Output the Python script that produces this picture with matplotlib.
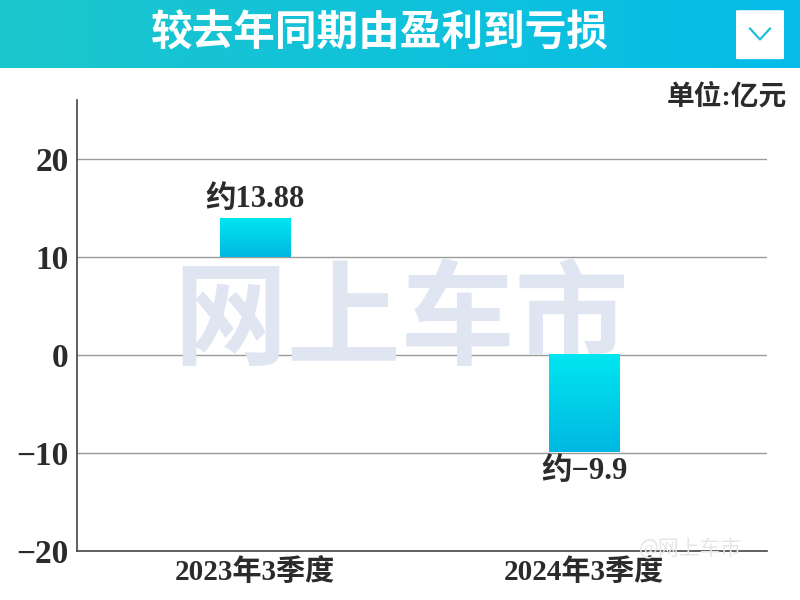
import matplotlib.pyplot as plt
import numpy as np
from matplotlib.patches import FancyBboxPatch

# data
categories = ["2023年3季度", "2024年3季度"]
bar_bottoms = [10, 0]
bar_tops = [13.88, -9.9]
bar_labels = ["约13.88", "约−9.9"]
y_ticks = [-20, -10, 0, 10, 20]
y_tick_labels = ["−20", "−10", "0", "10", "20"]

title = "较去年同期由盈利到亏损"
unit = "单位:亿元"

SERIF = ["Liberation Serif", "Noto Sans CJK SC"]
CJK = ["Noto Sans CJK SC", "DejaVu Sans"]
DARK = "#2b2b2b"


def gradient_bar(ax, x, bottom, top, width):
    grad = np.linspace(0, 1, 64).reshape(-1, 1)
    lo, hi = min(bottom, top), max(bottom, top)
    # cyan at the top edge, deeper blue at the bottom edge
    cmap = plt.matplotlib.colors.LinearSegmentedColormap.from_list(
        "bar", ["#00b8e2", "#00e6f0"])
    ax.imshow(grad, extent=(x - width / 2, x + width / 2, lo, hi),
              origin="lower", cmap=cmap, aspect="auto", zorder=3)


def main():
    fig = plt.figure(figsize=(8, 6), dpi=100)

    # header band
    band = fig.add_axes([0, 1 - 68 / 600, 1, 68 / 600])
    band.imshow(np.linspace(0, 1, 256).reshape(1, -1), aspect="auto",
                cmap=plt.matplotlib.colors.LinearSegmentedColormap.from_list(
                    "hdr", ["#1cc6cc", "#05bde9"]),
                extent=(0, 1, 0, 1))
    band.set_xlim(0, 1)
    band.set_ylim(0, 1)
    band.axis("off")
    band.text(0.475, 0.5, title, color="white", fontsize=30,
              fontweight="bold", family=CJK, ha="center", va="center")
    btn = FancyBboxPatch((736 / 800, 0.13), 48 / 800, 0.72,
                         boxstyle="round,pad=0,rounding_size=0.006",
                         transform=band.transAxes, facecolor="white",
                         edgecolor="none")
    band.add_patch(btn)
    band.plot([750 / 800, 760 / 800, 770 / 800], [0.58, 0.42, 0.58],
              color="#1cc0d8", lw=1.6, transform=band.transAxes)

    ax = fig.add_axes([77 / 800, 49 / 600, 690 / 800, 451 / 600])
    ax.set_xlim(-0.541, 1.556)
    ax.set_ylim(-20, 26)

    # big watermark, behind the bars
    ax.text(0.47, 0.505, "网上车市", transform=ax.transAxes, family=CJK,
            fontsize=82, fontweight="bold", color="#dfe5f1",
            ha="center", va="center", zorder=2)

    x = np.arange(len(categories))
    for i in x:
        gradient_bar(ax, i, bar_bottoms[i], bar_tops[i], 0.215)
        if bar_tops[i] >= bar_bottoms[i]:
            ax.text(i, bar_tops[i] + 0.5, bar_labels[i], ha="center",
                    va="bottom", fontsize=22, fontweight="bold",
                    family=SERIF, color=DARK, zorder=4)
        else:
            ax.text(i, bar_tops[i] - 0.5, bar_labels[i], ha="center",
                    va="top", fontsize=22, fontweight="bold",
                    family=SERIF, color=DARK, zorder=4)

    for t in y_ticks[1:]:
        ax.axhline(t, color="#9a9a9a", lw=1, zorder=1)

    ax.set_yticks(y_ticks)
    ax.set_yticklabels(y_tick_labels, family=SERIF, fontsize=24,
                       fontweight="bold", color=DARK)
    ax.set_xticks(x)
    ax.set_xticklabels(categories, family=SERIF, fontsize=21,
                       fontweight="bold", color=DARK)
    ax.tick_params(length=0, axis="y", pad=6)
    ax.tick_params(length=0, axis="x", pad=5)
    for s in ("top", "right"):
        ax.spines[s].set_visible(False)
    for s in ("left", "bottom"):
        ax.spines[s].set_color("#444444")
        ax.spines[s].set_linewidth(1.2)

    fig.text(690 / 800, 1 - 549 / 600, "@网上车市", family=CJK,
             fontsize=15, color="#e6e6e6", ha="center", va="center")

    fig.text(787 / 800, 1 - 97 / 600, unit, family=SERIF, fontsize=20,
             fontweight="bold", color=DARK, ha="right", va="center")

    fig.savefig("out.png", dpi=100)


if __name__ == "__main__":
    main()
